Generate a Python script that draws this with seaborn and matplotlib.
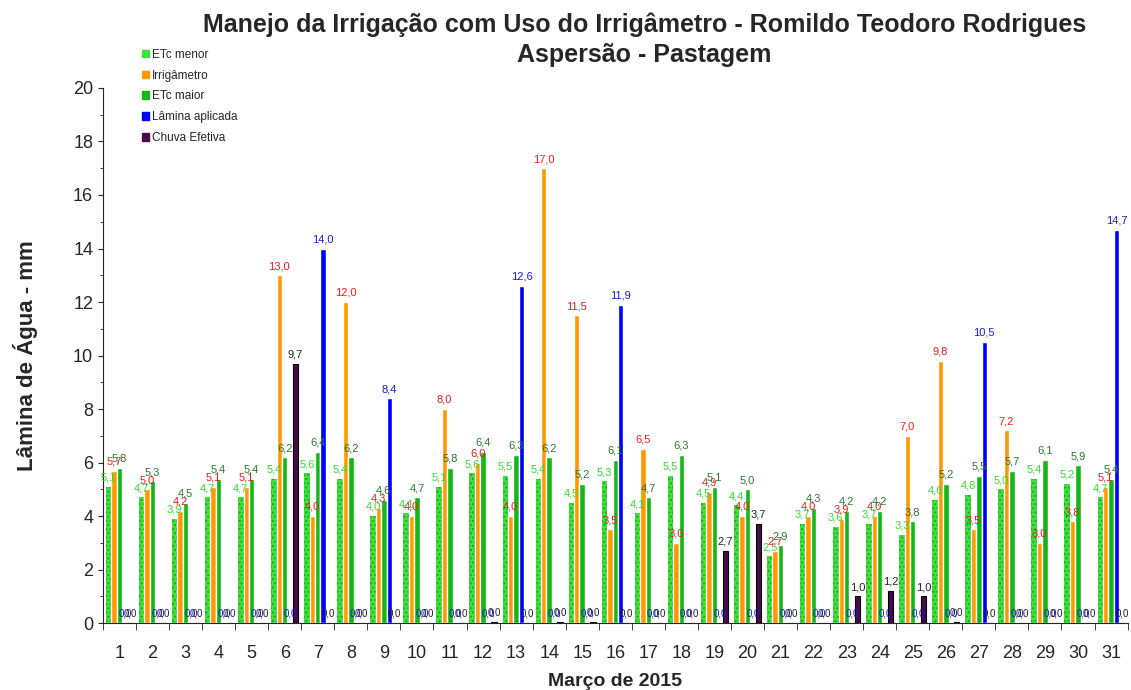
import numpy as np
import pandas as pd
import seaborn as sns
import matplotlib.pyplot as plt
from matplotlib.ticker import MultipleLocator

# dados - marco de 2015
dias = list(range(1, 32))
etc_menor = [5.1, 4.7, 3.9, 4.7, 4.7, 5.4, 5.6, 5.4, 4.0, 4.1, 5.1, 5.6, 5.5, 5.4, 4.5, 5.3,
             4.1, 5.5, 4.5, 4.4, 2.5, 3.7, 3.6, 3.7, 3.3, 4.6, 4.8, 5.0, 5.4, 5.2, 4.7]
irrigametro = [5.7, 5.0, 4.2, 5.1, 5.1, 13.0, 4.0, 12.0, 4.3, 4.0, 8.0, 6.0, 4.0, 17.0, 11.5, 3.5,
               6.5, 3.0, 4.9, 4.0, 2.7, 4.0, 3.9, 4.0, 7.0, 9.8, 3.5, 7.2, 3.0, 3.8, 5.1]
etc_maior = [5.8, 5.3, 4.5, 5.4, 5.4, 6.2, 6.4, 6.2, 4.6, 4.7, 5.8, 6.4, 6.3, 6.2, 5.2, 6.1,
             4.7, 6.3, 5.1, 5.0, 2.9, 4.3, 4.2, 4.2, 3.8, 5.2, 5.5, 5.7, 6.1, 5.9, 5.4]
lamina = [0, 0, 0, 0, 0, 0, 14.0, 0, 8.4, 0, 0, 0, 12.6, 0, 0, 11.9,
          0, 0, 0, 0, 0, 0, 0, 0, 0, 0, 10.5, 0, 0, 0, 14.7]
chuva = [0, 0, 0, 0, 0, 9.7, 0, 0, 0, 0, 0, 0.04, 0, 0.04, 0.04, 0,
         0, 0, 2.7, 3.7, 0, 0, 1.0, 1.2, 1.0, 0.04, 0, 0, 0, 0, 0]

series = ["ETc menor", "Irrigâmetro", "ETc maior", "Lâmina aplicada", "Chuva Efetiva"]
cores = ["#3ee23e", "#ff9900", "#14b814", "#0000ff", "#4a0a4a"]
cores_rotulo = ["#33dd33", "#ee1c1c", "#2a7a2a", "#1a1acc", "#222222"]

df = pd.DataFrame({
    "Dia": dias * 5,
    "Serie": np.repeat(series, 31),
    "Valor": etc_menor + irrigametro + etc_maior + lamina + chuva,
})

sns.set_style("ticks")
plt.rcParams['font.family'] = ['Liberation Sans', 'DejaVu Sans']

fig = plt.figure(figsize=(11.31, 6.9), dpi=100)
ax = fig.add_axes([0.091, 0.097, 0.906, 0.7755])

sns.barplot(data=df, x="Dia", y="Valor", hue="Serie", hue_order=series,
            palette=cores, width=0.82, saturation=1, ax=ax, legend=False)

# textura pontilhada no ETc menor, borda escura na chuva
for p in ax.containers[0]:
    p.set_hatch("....")
    p.set_edgecolor("#22a822")
    p.set_linewidth(0)
for p in ax.containers[4]:
    p.set_edgecolor("black")
    p.set_linewidth(0.8)

for cont, cor in zip(ax.containers, cores_rotulo):
    rot = [f"{v:.1f}".replace(".", ",") for v in cont.datavalues]
    txts = ax.bar_label(cont, labels=rot, color=cor, fontsize=8, padding=3)
    for t, v in zip(txts, cont.datavalues):
        if v < 0.5:
            t.set_fontsize(7)

ax.set_ylim(0, 20)
ax.set_xlim(-0.5, 30.5)
ax.yaxis.set_major_locator(MultipleLocator(2))
ax.yaxis.set_minor_locator(MultipleLocator(1))
ax.tick_params(axis="both", labelsize=13)
ax.tick_params(axis="x", length=0, pad=16)
ax.set_xticks(np.arange(-0.5, 31, 1), minor=True)
ax.tick_params(axis="x", which="minor", length=5, direction="out")
sns.despine(ax=ax)

ax.set_xlabel("Março de 2015", fontsize=14, fontweight="bold", labelpad=8)
ax.set_ylabel("Lâmina de Água - mm", fontsize=16, fontweight="bold", labelpad=25)

fig.text(0.57, 0.982, "Manejo da Irrigação com Uso do Irrigâmetro - Romildo Teodoro Rodrigues\nAspersão - Pastagem",
         ha="center", va="top", fontsize=18, fontweight="bold", linespacing=1.3)

handles = [plt.Rectangle((0, 0), 1, 1, color=c) for c in cores]
fig.legend(handles, series, loc="upper left", bbox_to_anchor=(0.12, 0.938),
           frameon=False, fontsize=8.5, handlelength=0.6, handleheight=0.6,
           handletextpad=0.3, labelspacing=0.75, borderpad=0)

fig.savefig("out.png", dpi=100)
